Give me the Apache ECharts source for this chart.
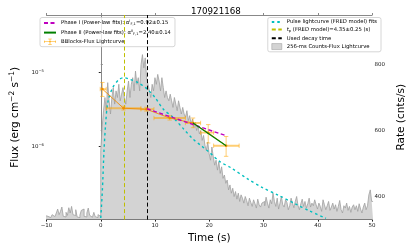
<!DOCTYPE html>
<html><head><meta charset="utf-8">
<script src="https://cdn.jsdelivr.net/npm/echarts@6/dist/echarts.min.js"></script>
<style>html,body{margin:0;padding:0;background:#fff}#c{width:415px;height:249px}</style>
</head><body><div id="c"></div>
<script>
const titleText = '170921168';
const binWidth = 0.256;
const firstEdge = -10.24;
const rateCounts = [
342,340,338,336,342,345,339,337,350,362,345,355,368,340,338,352,343,366,350,370,345,342,360,338,336,344,358,362,340,338,350,365,343,337,341,352,339,336,345,340,
540,610,660,700,660,745,690,650,700,730,680,720,700,740,690,710,730,700,680,720,750,700,740,760,720,780,740,760,720,800,830,790,820,760,740,720,700,740,720,760,
740,770,750,720,760,730,700,720,700,690,710,690,670,700,680,660,690,670,650,670,650,640,660,630,645,620,635,610,625,600,615,590,600,570,585,555,540,565,530,510,
550,520,495,510,480,505,470,490,455,465,440,450,
420,435,410,425,400,415,392,410,385,405,395,380,400,388,372,395,382,370,390,378,365,392,375,368,380,
385,372,398,380,365,390,378,410,385,370,395,362,380,400,375,368,390,382,360,372,395,380,366,385,400,372,360,378,392,370,385,365,378,395,368,380,372,390,375,
362,380,370,355,390,375,360,372,385,358,368,380,362,375,355,370,388,360,350,372,365,380,358,370,352,368,375,360,372,355,378,362,350,368,380,360,372,405,420,385
];
const fredTime = [0.0, 0.3, 0.6, 0.9, 1.3, 2.2, 3.4, 4.3, 5.4, 6.9, 8.6, 10.0, 11.5, 13.3, 15.3, 17.0, 18.5, 20.0, 22.0, 24.0, 27.0, 29.8, 32.7, 35.7, 38.5, 41.5];
const fredRate = [335, 420, 540, 620, 685, 730, 755, 760, 755, 745, 725, 700, 665, 640, 604, 574, 554, 534, 505, 487, 454, 427, 404, 379, 356, 334];
const bbTime   = [0.3, 4.2, 8.4, 12.7, 17.0, 19.8, 23.1];
const bbTimeLo = [-0.1, 1.0, 7.4, 9.8, 15.6, 18.4, 20.8];
const bbTimeHi = [1.0, 7.4, 9.8, 15.6, 18.4, 20.8, 25.5];
const bbFlux   = [5.97e-6, 3.28e-6, 3.18e-6, 2.42e-6, 2.07e-6, 1.53e-6, 1.02e-6];
const bbFluxLo = [4.74e-6, 3.10e-6, 3.00e-6, 2.27e-6, 1.79e-6, 1.11e-6, 7.33e-7];
const bbFluxHi = [7.33e-6, 3.50e-6, 3.38e-6, 2.60e-6, 2.42e-6, 1.97e-6, 1.36e-6];
const phase1Time = [8.5, 15.0, 23.0];
const phase1Flux = [3.23e-6, 2.22e-6, 1.40e-6];
const phase2Time = [17.0, 23.1];
const phase2Flux = [2.07e-6, 1.02e-6];
const peakTime = 4.35;
const decayTime = 8.5;
const rateTickValues = [400, 600, 800];

const FONT = 'DejaVu Sans';
const histData = rateCounts.map((v, i) => [firstEdge + i * binWidth, v]);
histData.push([firstEdge + rateCounts.length * binWidth, rateCounts[rateCounts.length - 1]]);
const zip = (a, b) => a.map((v, i) => [v, b[i]]);
const errData = bbTime.map((t, i) => [bbTimeLo[i], bbTimeHi[i], bbFluxLo[i], bbFluxHi[i], t, bbFlux[i]]);

const nPhase1 = 'Phase I (Power-law fits)';
const nPhase2 = 'Phase II (Power-law fits)';
const nBB = 'BBlocks-Flux Lightcurve';
const nFred = 'Pulse lightcurve (FRED model) fits';
const nPeak = 'tp (FRED model)';
const nDecay = 'Used decay time';
const nHist = '256-ms Counts-Flux Lightcurve';
const errIcon = 'path://M0,4.5H20V5.5H0Z M9.5,0H10.5V10H9.5Z M7,0H13V0.8H7Z M7,9.2H13V10H7Z M0,3H0.8V7H0Z M19.2,3H20V7H19.2Z M10,3.2L11.8,5L10,6.8L8.2,5Z';

const legendRich = {
  t: {fontSize: 5.3, fontFamily: FONT, color: '#000'},
  i: {fontSize: 5.3, fontFamily: FONT, color: '#000', fontStyle: 'italic'},
  sub: {fontSize: 3.6, fontFamily: FONT, color: '#000', padding: [3, 0, 0, 0]},
  sup: {fontSize: 3.6, fontFamily: FONT, color: '#000', padding: [0, 0, 3, 0]}
};
const legendFmt = name => {
  if (name === nPhase1) return '{t|Phase I (Power-law fits): α}{sup|I}{sub|F,1}{t|=0.92±0.15}';
  if (name === nPhase2) return '{t|Phase II (Power-law fits): α}{sup|II}{sub|F,1}{t|=2.40±0.14}';
  if (name === nPeak) return '{i|t}{sub|p}{t| (FRED model)=4.35±0.25 (s)}';
  return '{t|' + name + '}';
};
const legendBase = {
  orient: 'vertical', top: 17.5, itemHeight: 6, itemGap: 2.6,
  padding: [2, 4, 2, 3], borderColor: '#cccccc', borderWidth: 0.8, borderRadius: 2,
  backgroundColor: 'rgba(255,255,255,0.8)', selectedMode: false,
  itemStyle: {opacity: 0},
  textStyle: {fontSize: 5.3, fontFamily: FONT, color: '#000', rich: legendRich},
  formatter: legendFmt
};

const chart = echarts.init(document.getElementById('c'), null, {renderer: 'canvas'});
chart.setOption({
  animation: false,
  backgroundColor: '#fff',
  title: {text: titleText, left: 186, top: 2, textStyle: {fontSize: 8.7, fontWeight: 'normal', fontFamily: FONT, color: '#000'}},
  grid: {left: 38, right: 33, top: 15, bottom: 29},
  legend: [
    Object.assign({}, legendBase, {left: 40, itemWidth: 12,
      data: [{name: nPhase1}, {name: nPhase2}, {name: nBB, icon: errIcon, itemStyle: {color: '#ffa500', opacity: 1}}]}),
    Object.assign({}, legendBase, {right: 34, itemWidth: 10,
      data: [{name: nFred}, {name: nPeak}, {name: nDecay},
             {name: nHist, icon: 'rect', itemStyle: {color: '#d3d3d3', borderColor: '#999', borderWidth: 0.5, opacity: 1}}]})
  ],
  xAxis: [{
    type: 'value', min: -10, max: 50, interval: 10,
    name: 'Time (s)', nameLocation: 'middle', nameGap: 10,
    nameTextStyle: {fontSize: 10.5, fontFamily: FONT, color: '#000'},
    axisLine: {show: true, lineStyle: {color: '#222', width: 1}},
    axisTick: {show: true, length: 2, lineStyle: {color: '#222'}},
    axisLabel: {fontSize: 5.5, fontFamily: FONT, color: '#222', margin: 2.5,
      formatter: v => (v < 0 ? '\u2212' + Math.abs(v) : String(v))},
    splitLine: {show: false}
  }, {
    type: 'value', min: -10, max: 50, interval: 10, position: 'top',
    axisLine: {show: true, lineStyle: {color: '#888', width: 1}},
    axisTick: {show: true, length: 2, lineStyle: {color: '#888'}},
    axisLabel: {show: false}, splitLine: {show: false}
  }],
  yAxis: [{
    type: 'log', logBase: 10, min: 1.02e-7, max: 6e-5,
    name: 'Flux (erg cm{sup|\u22122}{t| s}{sup|\u22121}{t|)}', nameLocation: 'middle', nameGap: 17,
    nameTextStyle: {fontSize: 10.5, fontFamily: FONT, color: '#000',
      rich: {t: {fontSize: 10.5, fontFamily: FONT, color: '#000'}, sup: {fontSize: 7.5, fontFamily: FONT, color: '#000', padding: [0, 0, 6, 0]}}},
    axisLine: {show: true, lineStyle: {color: '#222', width: 1}},
    axisTick: {show: true, length: 2, lineStyle: {color: '#222'}},
    axisLabel: {
      showMinLabel: false, showMaxLabel: false, margin: 2.5,
      formatter: v => {
        const e = Math.round(Math.log10(v));
        if (Math.abs(Math.log10(v) - e) > 1e-6) return '';
        return '{b|10}{s|' + (e < 0 ? '\u2212' : '') + Math.abs(e) + '}';
      },
      rich: {b: {fontSize: 5.5, fontFamily: FONT, color: '#222'}, s: {fontSize: 3.8, fontFamily: FONT, color: '#222', padding: [0, 0, 3, 0]}}
    },
    splitLine: {show: false}
  }, {
    type: 'value', min: 330, max: 950, position: 'right',
    name: 'Rate (cnts/s)', nameLocation: 'middle', nameGap: 15,
    nameTextStyle: {fontSize: 10.5, fontFamily: FONT, color: '#000'},
    axisLine: {show: true, lineStyle: {color: '#888', width: 1}},
    axisTick: {show: true, length: 2, customValues: rateTickValues, lineStyle: {color: '#888'}},
    axisLabel: {fontSize: 5.5, fontFamily: FONT, color: '#222', margin: 2.5, customValues: rateTickValues},
    splitLine: {show: false}
  }],
  series: [
    {name: nHist, type: 'line', step: 'end', xAxisIndex: 0, yAxisIndex: 1, symbol: 'none', z: 1,
     lineStyle: {color: '#a0a0a0', width: 0.8}, itemStyle: {color: '#d3d3d3'},
     areaStyle: {color: '#d3d3d3', opacity: 1, origin: 'start'}, data: histData},
    {name: nPeak, type: 'line', xAxisIndex: 0, yAxisIndex: 0, symbol: 'none', z: 3, data: [],
     lineStyle: {color: '#bfbf00', width: 1, type: [4, 2.5]}, itemStyle: {color: '#bfbf00'},
     markLine: {silent: true, symbol: 'none', label: {show: false}, lineStyle: {color: '#bfbf00', width: 1, type: [4, 2.5]}, data: [{xAxis: peakTime}]}},
    {name: nDecay, type: 'line', xAxisIndex: 0, yAxisIndex: 0, symbol: 'none', z: 3, data: [],
     lineStyle: {color: '#000', width: 1, type: [4, 2.5]}, itemStyle: {color: '#000'},
     markLine: {silent: true, symbol: 'none', label: {show: false}, lineStyle: {color: '#000', width: 1, type: [4, 2.5]}, data: [{xAxis: decayTime}]}},
    {name: nFred, type: 'line', xAxisIndex: 0, yAxisIndex: 1, symbol: 'none', smooth: 0.3, z: 4,
     lineStyle: {color: '#00bfbf', width: 1.4, type: [2.5, 3]}, itemStyle: {color: '#00bfbf'}, data: zip(fredTime, fredRate)},
    {name: 'bb-err', type: 'custom', xAxisIndex: 0, yAxisIndex: 0, z: 5, clip: true,
     encode: {x: [0, 1, 4], y: [2, 3, 5]}, data: errData,
     renderItem: (params, api) => {
       const t = api.value(4), f = api.value(5);
       const pL = api.coord([api.value(0), f]), pR = api.coord([api.value(1), f]);
       const pB = api.coord([t, api.value(2)]), pT = api.coord([t, api.value(3)]);
       const c = 2.2;
       const st = {stroke: 'rgba(255,165,0,0.55)', lineWidth: 1};
       const ln = (x1, y1, x2, y2, w) => ({type: 'line', shape: {x1, y1, x2, y2}, style: Object.assign({}, st, w ? {lineWidth: w} : {})});
       return {type: 'group', children: [
         ln(pL[0], pL[1], pR[0], pR[1], 1.8),
         ln(pB[0], pB[1], pT[0], pT[1]),
         ln(pB[0] - c, pB[1], pB[0] + c, pB[1]),
         ln(pT[0] - c, pT[1], pT[0] + c, pT[1]),
         ln(pL[0], pL[1] - c, pL[0], pL[1] + c),
         ln(pR[0], pR[1] - c, pR[0], pR[1] + c)
       ]};
     }},
    {name: nBB, type: 'line', xAxisIndex: 0, yAxisIndex: 0, symbol: 'circle', symbolSize: 2.5, z: 6,
     lineStyle: {color: '#f08c00', width: 0.9}, itemStyle: {color: '#f08c00'}, data: zip(bbTime, bbFlux)},
    {name: nPhase1, type: 'line', xAxisIndex: 0, yAxisIndex: 0, symbol: 'none', z: 7,
     lineStyle: {color: '#bf00bf', width: 1.4, type: [4, 2.5]}, itemStyle: {color: '#bf00bf'}, data: zip(phase1Time, phase1Flux)},
    {name: nPhase2, type: 'line', xAxisIndex: 0, yAxisIndex: 0, symbol: 'none', z: 8,
     lineStyle: {color: '#008000', width: 1.2}, itemStyle: {color: '#008000'}, data: zip(phase2Time, phase2Flux)}
  ]
});
</script></body></html>
